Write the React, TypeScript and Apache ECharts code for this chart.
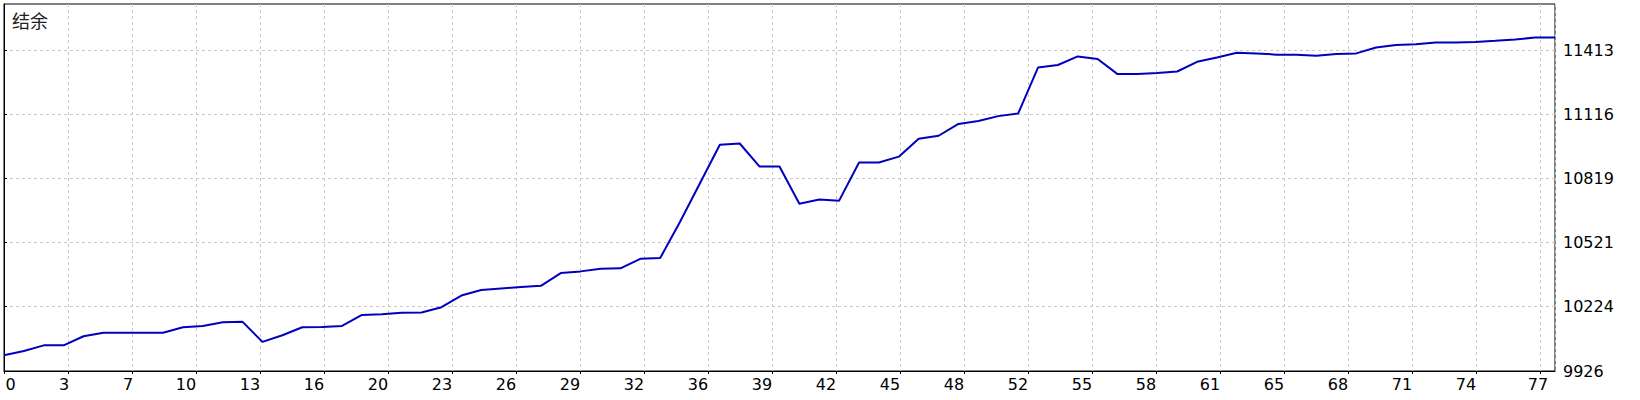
import React, { useEffect, useRef } from "react";
import * as echarts from "echarts";

const balance = [
  9999, 10019, 10045, 10045, 10087, 10103, 10103, 10103, 10103, 10129,
  10135, 10152, 10154, 10061, 10092, 10129, 10130, 10135, 10186, 10189,
  10196, 10197, 10222, 10276, 10302, 10309, 10316, 10321, 10380, 10388,
  10400, 10402, 10446, 10450, 10618, 10797, 10975, 10981, 10874, 10874,
  10702, 10721, 10716, 10893, 10893, 10920, 11003, 11017, 11072, 11085,
  11108, 11120, 11333, 11345, 11385, 11373, 11303, 11303, 11308, 11315,
  11360, 11380, 11402, 11399, 11393, 11393, 11388, 11396, 11399, 11426,
  11438, 11441, 11450, 11450, 11452, 11457, 11463, 11473, 11473,
];

const xTickLabels = [
  "0", "3", "7", "10", "13", "16", "20", "23", "26", "29", "32", "36", "39",
  "42", "45", "48", "52", "55", "58", "61", "65", "68", "71", "74", "77",
];

const yTicks = [9926, 10224, 10521, 10819, 11116, 11413];

const yMin = 9926;
const yMax = 11628;
const xMax = 78;
const xInterval = (78 * 64) / 1551;

export default function App() {
  const ref = useRef<HTMLDivElement>(null);
  useEffect(() => {
    if (!ref.current) return;
    const chart = echarts.init(ref.current, null, { renderer: "svg" });
    const numFont = "DejaVu Sans";
    chart.setOption({
      animation: false,
      backgroundColor: "#ffffff",
      title: {
        text: "结余",
        left: 12,
        top: 11,
        padding: 0,
        textStyle: {
          fontSize: 18,
          fontWeight: "normal",
          color: "#222",
          fontFamily: "Noto Sans CJK SC",
        },
      },
      grid: {
        left: 4,
        top: 4,
        right: 85,
        bottom: 29,
        show: true,
        borderColor: "#000",
        borderWidth: 1,
        backgroundColor: "#fff",
      },
      xAxis: {
        type: "value",
        min: 0,
        max: xMax,
        interval: xInterval,
        axisLine: { show: true, lineStyle: { color: "#000", width: 1 } },
        axisTick: { show: true, length: 3, lineStyle: { color: "#000" } },
        splitLine: {
          show: true,
          lineStyle: { color: "#c8c8c8", type: [3, 3], width: 1 },
        },
        axisLabel: {
          margin: 5,
          color: "#000",
          fontFamily: numFont,
          fontSize: 16,
          align: "center",
          showMaxLabel: false,
          formatter: (v: number) => {
            const k = Math.round(v / xInterval);
            const t = xTickLabels[k];
            if (t === undefined) return "";
            if (k === 0) return "{z|" + t + "}";
            if (k === xTickLabels.length - 1) return "{e|" + t + "}";
            if (t.length === 1) return "{s|" + t + "}";
            return "{d|" + t + "}";
          },
          rich: {
            z: { padding: [0, 0, 0, 13], fontFamily: numFont, fontSize: 16, color: "#000" },
            s: { padding: [0, 8, 0, 0], fontFamily: numFont, fontSize: 16, color: "#000" },
            d: { padding: [0, 20, 0, 0], fontFamily: numFont, fontSize: 16, color: "#000" },
            e: { padding: [0, 4, 0, 0], fontFamily: numFont, fontSize: 16, color: "#000" },
          },
        },
      },
      yAxis: {
        type: "value",
        position: "right",
        min: yMin,
        max: yMax,
        axisLine: { show: true, lineStyle: { color: "#000", width: 1 } },
        axisTick: {
          show: true,
          length: 3,
          lineStyle: { color: "#000" },
          customValues: yTicks,
        },
        splitLine: {
          show: true,
          lineStyle: { color: "#c8c8c8", type: [3, 3], width: 1 },
        },
        axisLabel: {
          margin: 8,
          color: "#000",
          fontFamily: numFont,
          fontSize: 16,
          padding: [3, 0, 0, 0],
          customValues: yTicks,
          formatter: (v: number) => String(Math.round(v)),
        },
      },
      series: [
        {
          type: "line",
          data: balance.map((v, i) => [i, v]),
          symbol: "none",
          lineStyle: { color: "#0000be", width: 2 },
          itemStyle: { color: "#0000be" },
        },
      ],
    });
    return () => chart.dispose();
  }, []);
  return (
    <div
      ref={ref}
      style={{ position: "fixed", left: 0, top: 0, width: 1640, height: 400, background: "#fff" }}
    />
  );
}
